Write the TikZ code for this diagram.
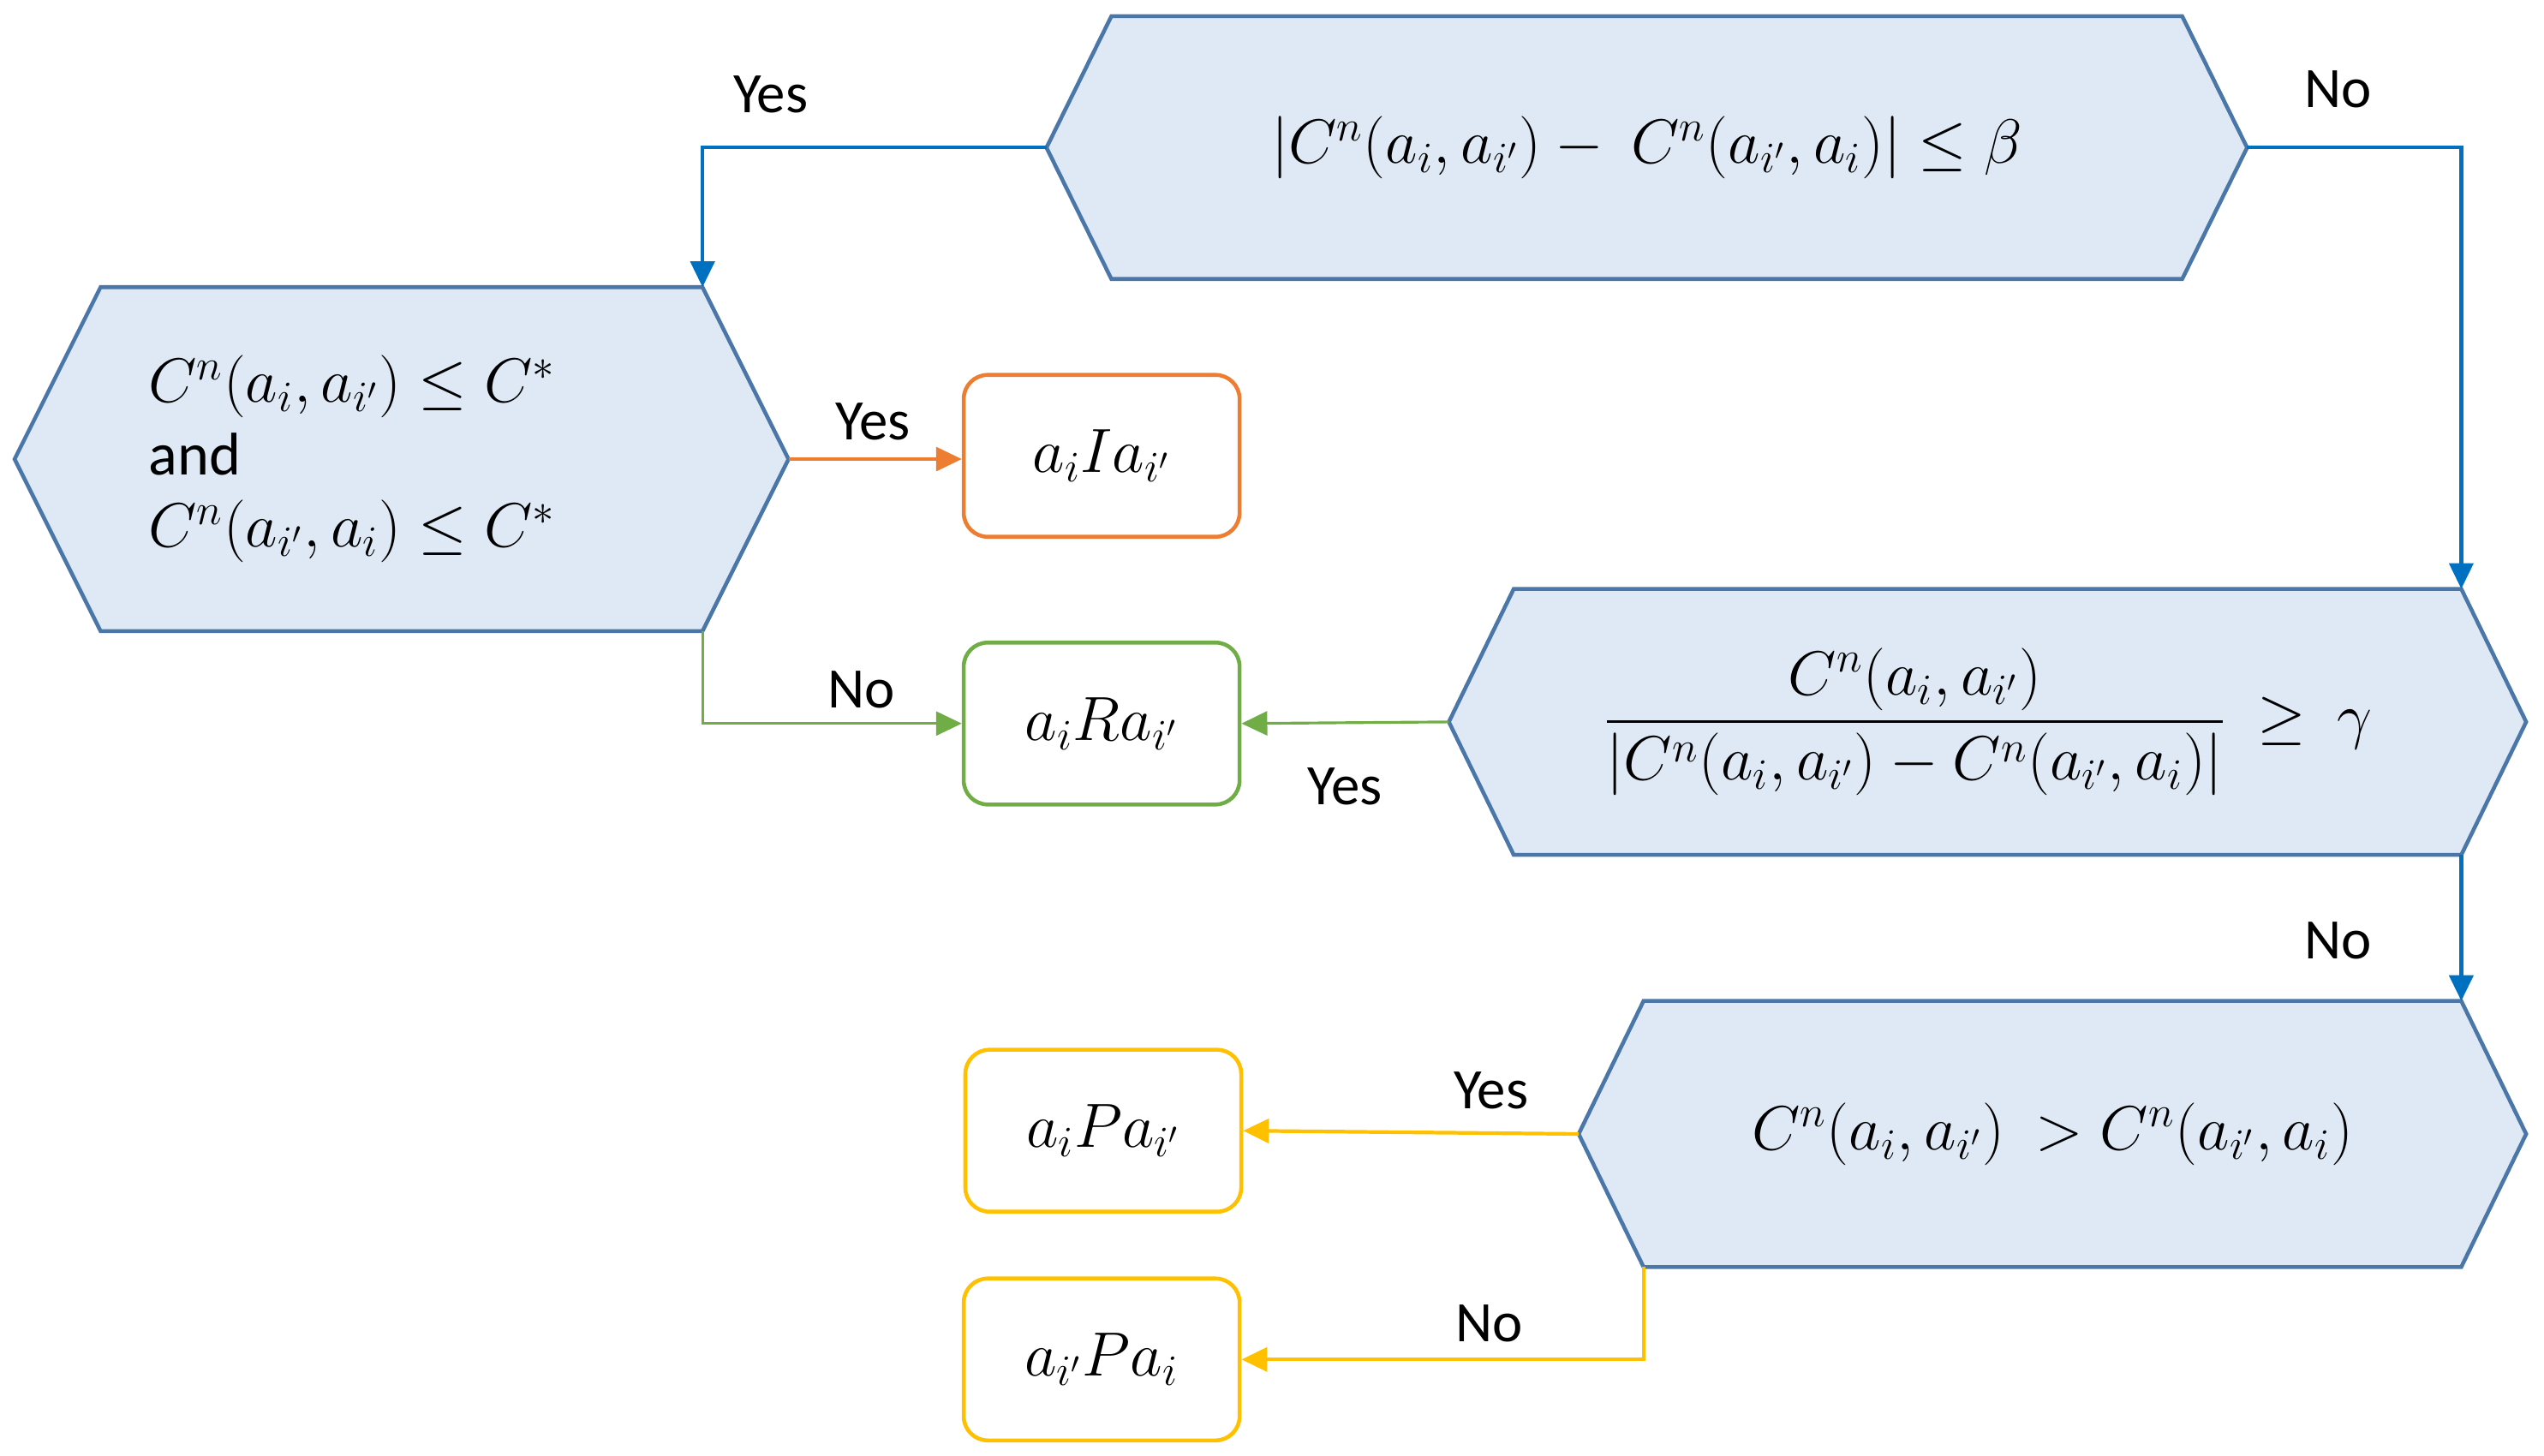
\documentclass[tikz,border=0pt]{standalone}
\usepackage{amsmath,amssymb}
\usepackage{fontspec}
\setmainfont{Carlito}
\usetikzlibrary{positioning,arrows.meta}

\definecolor{hexfill}{HTML}{DEE9F5}
\definecolor{hexline}{HTML}{4A76A8}
\definecolor{cblue}{HTML}{0070C0}
\definecolor{corange}{HTML}{ED7D31}
\definecolor{cgreen}{HTML}{70AD47}
\definecolor{cyellow}{HTML}{FFC000}

\tikzset{
  hexa/.style={draw=hexline, fill=hexfill, line width=1.3pt},
  box/.style={draw, rounded corners=8pt, line width=1.3pt, minimum width=3.22cm, minimum height=1.89cm, font=\fontsize{20}{24}\selectfont},
  txt/.style={font=\fontsize{20}{24}\selectfont},
  lab/.style={font=\fontsize{19}{22}\selectfont},
  link/.style={-{Triangle[length=0.3cm,width=0.28cm]}},
}

% name, cx, cy, half width, half height, tip depth
\newcommand{\hexa}[6]{%
  \draw[hexa] (#2-#4-#6,#3) coordinate (#1-w) -- (#2-#4,#3-#5) coordinate (#1-nw)
    -- (#2+#4,#3-#5) coordinate (#1-ne) -- (#2+#4+#6,#3) coordinate (#1-e)
    -- (#2+#4,#3+#5) coordinate (#1-se) -- (#2-#4,#3+#5) coordinate (#1-sw) -- cycle;
  \coordinate (#1-c) at (#2,#3);}

\begin{document}
\begin{tikzpicture}[x=0.018941cm, y=-0.018941cm]
    \useasboundingbox (0,0) rectangle (1568,897);

    % decisions
    \hexa{top}{1015}{91}{330}{81}{40}
    \hexa{cond}{247.5}{283}{185.5}{106}{53}
    \hexa{ratio}{1225}{445}{292}{82}{40}
    \hexa{pref}{1265}{699}{252}{82}{40}

    \node[txt] (toptxt) at (top-c) {$|C^n(a_i,a_{i'})-\ C^n(a_{i'},a_i)|\le\beta$};
    \node[txt, align=left, anchor=west] (condtxt) at (85,283) {$C^n(a_i,a_{i'})\le C^*$\\and\\$C^n(a_{i'},a_i)\le C^*$};
    \node[txt] (ratiotxt) at (ratio-c) {$\dfrac{C^n(a_i,a_{i'})}{|C^n(a_i,a_{i'})-C^n(a_{i'},a_i)|}\ \ge\ \gamma$};
    \node[txt] (preftxt) at (pref-c) {$C^n(a_i,a_{i'})\ >C^n(a_{i'},a_i)$};

    % outcomes
    \node[box, draw=corange] (ind) at (679,281) {$a_iIa_{i'}$};
    \node[box, draw=cgreen] (inc) at (679,446) {$a_iRa_{i'}$};
    \node[box, draw=cyellow] (pre) at (680,697) {$a_iPa_{i'}$};
    \node[box, draw=cyellow] (rev) at (679,838) {$a_{i'}Pa_i$};

    % connectors
    \draw[link, cblue, line width=1.2pt] (top-w) -| (cond-ne);
    \draw[link, cblue, line width=1.2pt] (top-e) -| (ratio-ne);
    \draw[link, corange, line width=0.9pt] (cond-e) -- (cond-e -| ind.west);
    \draw[link, cgreen, line width=0.9pt] (cond-sw -| cond-ne) |- (inc.west);
    \draw[link, cgreen, line width=0.9pt] (ratio-w) -- (inc.east);
    \draw[link, cblue, line width=1.2pt] (ratio-se) -- (pref-ne);
    \draw[link, cyellow, line width=1.2pt] (pref-w) -- (pre.east);
    \draw[link, cyellow, line width=1.2pt] (pref-sw) |- (rev.east);

    % labels
    \node[lab] (yes1) at (475,58) {Yes};
    \node[lab] (no1) at (1441,55) {No};
    \node[lab] (yes2) at (538,260) {Yes};
    \node[lab] (no2) at (531,425) {No};
    \node[lab] (yes3) at (829,485) {Yes};
    \node[lab] (no3) at (1441,580) {No};
    \node[lab] (yes4) at (919,672) {Yes};
    \node[lab] (no4) at (918,816) {No};
\end{tikzpicture}
\end{document}
